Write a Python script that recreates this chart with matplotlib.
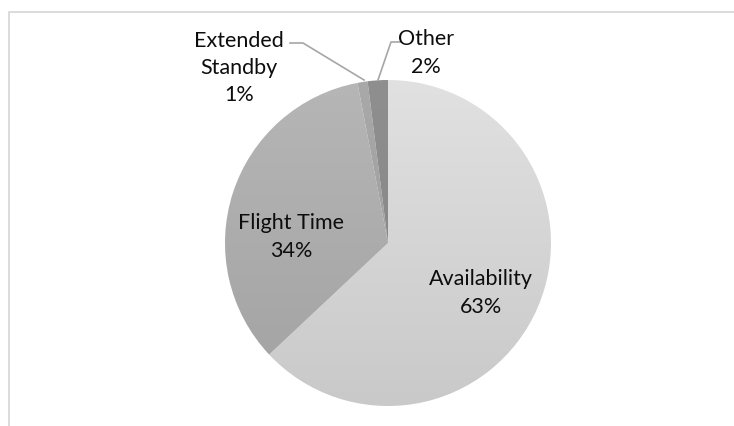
import numpy as np
import matplotlib
matplotlib.use("Agg")
import matplotlib.pyplot as plt
from matplotlib.colors import LinearSegmentedColormap
from matplotlib.patches import Rectangle

plt.rcParams['font.family'] = ['Lato', 'DejaVu Sans']

categories = ['Availability', 'Flight Time', 'Extended Standby', 'Other']
shares = [63, 34, 1, 2]
label_text = ['Availability', 'Flight Time', 'Extended\nStandby', 'Other']
# top / bottom shade of each slice
shades = [('#e1e1e1', '#c9c9c9'),
          ('#b6b6b6', '#a2a2a2'),
          ('#a9a9a9', '#989898'),
          ('#8f8f8f', '#848484')]

W, H = 734, 427
fig = plt.figure(figsize=(W / 100, H / 100), dpi=100)
ax = fig.add_axes([0, 0, 1, 1])

def py(y):
    # pixel row (from top) -> data y
    return H - y

# chart area frame
ax.add_patch(Rectangle((8.5, py(12.5) - 600), 900, 600, fill=False,
                       edgecolor='#d9d9d9', linewidth=1.3))

cx, cy, r = 388, py(244), 163
wedges, _ = ax.pie(shares, startangle=90, counterclock=False,
                   center=(cx, cy), radius=r, frame=True,
                   wedgeprops=dict(linewidth=0))
ax.set_xlim(0, W)
ax.set_ylim(0, H)
ax.axis('off')

grad = np.linspace(0, 1, 256).reshape(-1, 1)
for w, (top, bot) in zip(wedges, shades):
    w.set_facecolor('none')
    cmap = LinearSegmentedColormap.from_list('g', [top, bot])
    im = ax.imshow(grad, cmap=cmap, aspect='auto',
                   extent=(cx - r, cx + r, cy - r, cy + r), origin='upper')
    im.set_clip_path(w)

txt = dict(fontsize=15.5, color='#0d0d0d', ha='center', va='center',
           linespacing=1.45)
total = sum(shares)
pos = [(481, 293), (291, 237), (239, 68), (426, 53)]
for lab, s, (x, y) in zip(label_text, shares, pos):
    ax.text(x, py(y), f'{lab}\n{round(100 * s / total)}%', **txt)

# leader lines for the two thin slices
ax.plot([290, 303, 364], [py(44), py(44), py(81)], color='#a6a6a6', lw=1.2)
ax.plot([401, 391, 378], [py(43), py(43), py(81)], color='#a6a6a6', lw=1.2)

fig.savefig('out.png', dpi=100)
